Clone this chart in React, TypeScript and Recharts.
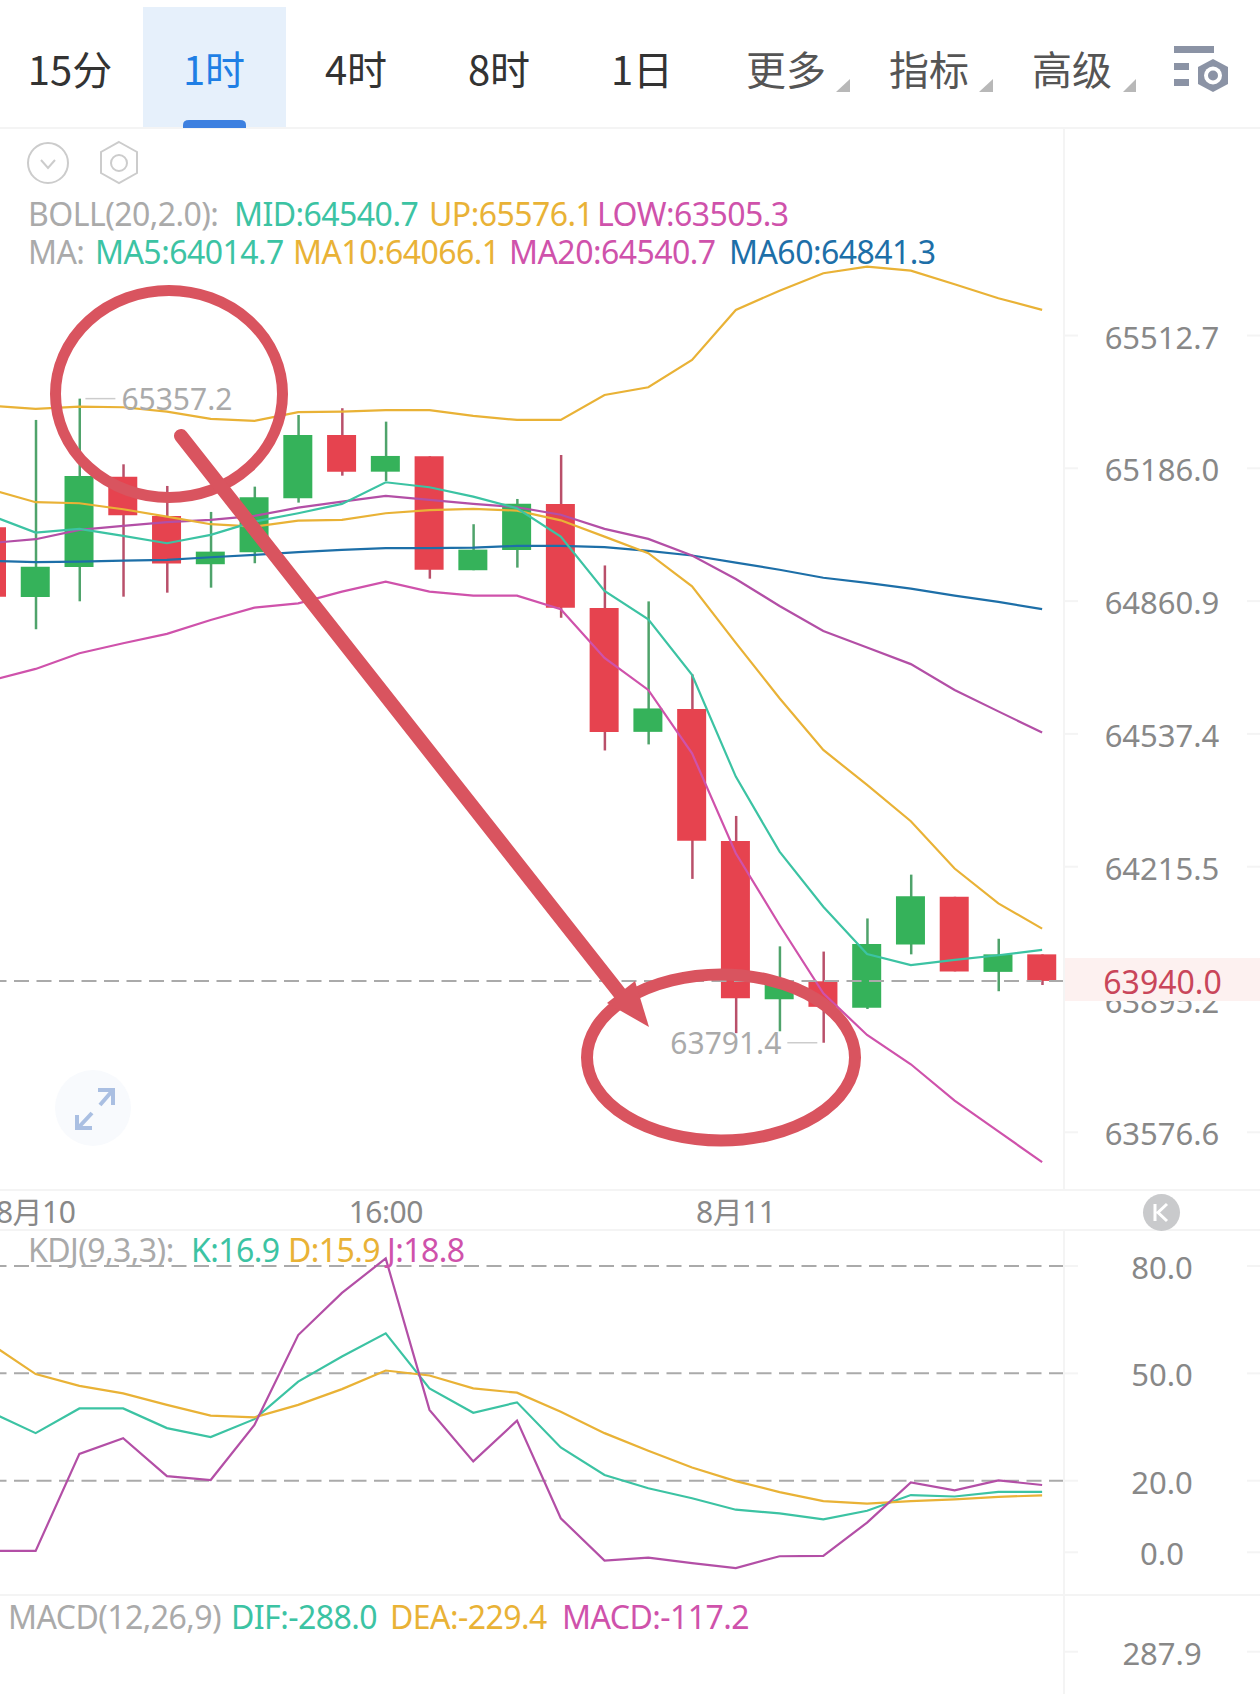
import {
  ComposedChart,
  Bar,
  Line,
  Cell,
  XAxis,
  YAxis,
  ReferenceLine,
  ReferenceDot,
} from "recharts";

const FONT = '"Noto Sans", "Noto Sans CJK SC", sans-serif';
const GREEN = "#35b25a";
const RED = "#e6434f";
const GREEN_WICK = "#4fa36b";
const RED_WICK = "#b9506a";
const TEAL = "#3cc3a3";
const YELLOW = "#e9b236";
const PINK = "#cf52ab";
const PURPLE = "#b34fa6";
const BLUE = "#1d6fa8";
const GRAY_TEXT = "#aaaaaa";
const TICK_TEXT = "#888888";
const BORDER = "#f4f4f4";
const MARKER = "#d9545f";

const times = [
  "8-10 07:00", "8月10", "8-10 09:00", "8-10 10:00", "8-10 11:00", "8-10 12:00", "8-10 13:00",
  "8-10 14:00", "8-10 15:00", "16:00", "8-10 17:00", "8-10 18:00", "8-10 19:00", "8-10 20:00",
  "8-10 21:00", "8-10 22:00", "8-10 23:00", "8月11", "8-11 01:00", "8-11 02:00", "8-11 03:00",
  "8-11 04:00", "8-11 05:00", "8-11 06:00", "8-11 07:00",
];
const dateTicks = ["8月10", "16:00", "8月11"];

const opens = [
  65041.6, 64871, 64944.4, 65165.4, 65069.2, 64951, 64980.4, 65112.6, 65267.9, 65177.7, 65215.5, 64936.3, 64986,
  65098.6, 64844.1, 64542.4, 64598.1, 64277.5, 63895.9, 63939.1, 63875.5, 64027.8, 64142.9, 63961.8, 64004,
];
const highs = [
  65060, 65304.8, 65357.2, 65195.8, 65142.7, 65079, 65141, 65317, 65333.6, 65300.6, 65215.5, 65048.9, 65110.8,
  65218.7, 64948, 64860.2, 64682.1, 64338.4, 64023.3, 64010.7, 64090.6, 64196.4, 64142.9, 64041.6, 64004,
];
const lows = [
  64871.7, 64792.2, 64860.4, 64871.7, 64881.5, 64893.7, 64953.4, 65101.8, 65167.9, 65154.9, 64915.7, 64936.3, 64942.7,
  64820.2, 64497.2, 64511.9, 64186.1, 63814.4, 63818.9, 63791.4, 63872.4, 64004, 63963, 63915.2, 63930.2,
];
const closes = [
  64871.7, 64945.1, 65167.2, 65071, 64952.5, 64981.8, 65115, 65267.9, 65177.7, 65216.3, 64937.8, 64986.7, 65099.3,
  64844.6, 64541.8, 64599.3, 64278.5, 63898.1, 63941.5, 63877.7, 64029.1, 64144.1, 63963, 64004, 63940,
];

const ma5 = [
  65069.2, 65028.3, 65037.4, 65020.3, 65002.4, 65022.7, 65055.3, 65075.8, 65098.6, 65151.7, 65139.5, 65116.5, 65088.1,
  65018.6, 64885.6, 64816.6, 64680.9, 64433.7, 64251.9, 64119, 64004.9, 63977.9, 63990.5, 64001.8, 64014.7,
];
const ma10 = [
  65132.9, 65102.8, 65100.3, 65085.6, 65067.5, 65048.9, 65043, 65057.7, 65059.4, 65075.8, 65083.2, 65086.4, 65082.2,
  65058.5, 65018.6, 64978, 64897.1, 64758.8, 64624.1, 64498.4, 64413.5, 64325.5, 64211.2, 64127, 64066.1,
];
const ma20 = [
  65003.1, 65012.2, 65035, 65044.8, 65053.8, 65059.4, 65069.2, 65089.5, 65104.2, 65118.2, 65108.4, 65098.6, 65090.5,
  65072.2, 65037.4, 65012.9, 64972.3, 64915, 64849, 64788.1, 64747.6, 64707.2, 64644.3, 64592.2, 64540.7,
];
const ma60 = [
  64959.1, 64955.9, 64957.4, 64959.8, 64961.5, 64968.1, 64973.8, 64980.4, 64986, 64990.2, 64990.2, 64991.6, 64995.8,
  64996, 64992.9, 64983.6, 64972.3, 64954.9, 64937.5, 64918, 64905.2, 64891.3, 64874.1, 64858.9, 64841.3,
];
const bollUp = [
  65339.3, 65331.9, 65337.5, 65336, 65325.2, 65307.3, 65302.4, 65323.8, 65325.2, 65328.7, 65328.7, 65314.7, 65304.8,
  65304.8, 65366.3, 65385.3, 65452.4, 65575.7, 65623.4, 65666.5, 65682.7, 65672.9, 65639.3, 65604.7, 65576.1,
];
const bollLow = [
  64667.7, 64695.5, 64733.7, 64758.1, 64780.8, 64814.9, 64844.8, 64855.5, 64883.9, 64908.4, 64883.9, 64874.1, 64874.1,
  64840.9, 64722.3, 64644.3, 64490.4, 64248, 64074.9, 63910.1, 63810, 63739.7, 63652.4, 63578.8, 63505.3,
];

const kLine = [
  39, 33.3, 40.2, 40.2, 34.7, 32.2, 37.2, 47.7, 54.7, 61.2, 45.8, 39, 41.9,
  29.3, 21.6, 17.9, 15.1, 11.9, 10.9, 9.2, 11.6, 16, 15.6, 16.9, 16.9,
];
const dLine = [
  58, 49.8, 46.5, 44.4, 41.2, 38.2, 37.7, 41.2, 45.6, 50.8, 49.4, 45.8, 44.6,
  39.3, 33.3, 28.4, 23.7, 19.9, 16.8, 14.3, 13.6, 14.3, 14.8, 15.5, 15.9,
];
const jLine = [
  0.4, 0.4, 27.5, 31.9, 21.3, 20.2, 35.6, 60.7, 72.5, 82.1, 39.8, 25.4, 36.8,
  9.5, -2.3, -1.5, -3, -4.4, -1.1, -1, 8.3, 19.5, 17.3, 20.1, 18.8,
];

const priceTicks = [65512.7, 65186.0, 64860.9, 64537.4, 64215.5, 63895.2, 63576.6];
const priceDomain = [63438.7, 66026.5];
const kdjTicks = [80, 50, 20, 0];
const kdjLevels = [80, 50, 20];
const kdjDomain = [-11.93, 90.06];
const macdTicks = [287.9];
const macdDomain = [192.4, 400];
const lastPrice = 63940;

const tabs = ["15分", "1时", "4时", "8时", "1日", "更多", "指标", "高级"];
const tabCenters = [70, 214, 356, 499, 642, 786, 929, 1072];

const priceData = times.map((time, i) => ({
  time,
  body: [Math.min(opens[i], closes[i]), Math.max(opens[i], closes[i])],
  wick: [lows[i], highs[i]],
  up: closes[i] >= opens[i],
  ma5: ma5[i],
  ma10: ma10[i],
  ma20: ma20[i],
  ma60: ma60[i],
  bollUp: bollUp[i],
  bollLow: bollLow[i],
}));

const kdjData = times.map((time, i) => ({ time, k: kLine[i], d: dLine[i], j: jLine[i] }));

function ValueTick({ x, y, payload }: any) {
  return (
    <g>
      <line x1={x} x2={x + 14} y1={y} y2={y} stroke={BORDER} strokeWidth={2} />
      <line x1={x + 183} x2={x + 196} y1={y} y2={y} stroke={BORDER} strokeWidth={2} />
      <text x={x + 98} y={y + 1} textAnchor="middle" dominantBaseline="central" fontSize={31} fontFamily={FONT} fill={TICK_TEXT}>
        {payload.value.toFixed(1)}
      </text>
    </g>
  );
}

function DateTick({ x, y, payload }: any) {
  return (
    <text x={x} y={y + 21} textAnchor="middle" dominantBaseline="central" fontSize={30} fontFamily={FONT} fill={TICK_TEXT} letterSpacing={-0.5}>
      {payload.value}
    </text>
  );
}

function ExtremeLabel({ cx, cy, text, side }: any) {
  const sign = side === "right" ? 1 : -1;
  return (
    <g>
      <line x1={cx + sign * 6} x2={cx + sign * 36} y1={cy} y2={cy} stroke="#cccccc" strokeWidth={1.5} />
      <text x={cx + sign * 42} y={cy} textAnchor={side === "right" ? "start" : "end"} dominantBaseline="central" fontSize={30} fontFamily={FONT} fill={GRAY_TEXT}>
        {text}
      </text>
    </g>
  );
}

function Legend({ top, items }: { top: number; items: [string, string, number][] }) {
  return (
    <>
      {items.map(([text, color, left]) => (
        <div
          key={text}
          style={{
            position: "absolute",
            top,
            left,
            color,
            fontFamily: FONT,
            fontSize: 32,
            lineHeight: "40px",
            letterSpacing: -0.55,
            whiteSpace: "pre",
          }}
        >
          {text}
        </div>
      ))}
    </>
  );
}

function Rule({ top }: { top: number }) {
  return <div style={{ position: "absolute", top, left: 0, width: 1260, height: 2, background: BORDER }} />;
}

function PriceChart() {
  return (
    <ComposedChart width={1290} height={1102} data={priceData} margin={{ top: 0, right: 0, bottom: 0, left: 0 }}>
      <XAxis xAxisId="wick" dataKey="time" hide />
      <XAxis
        xAxisId="body"
        dataKey="time"
        ticks={dateTicks}
        interval={0}
        height={40}
        tick={<DateTick />}
        tickLine={false}
        tickSize={0}
        tickMargin={0}
        axisLine={{ stroke: BORDER, strokeWidth: 2 }}
      />
      <YAxis
        orientation="right"
        width={196}
        scale="log"
        domain={priceDomain}
        allowDataOverflow
        ticks={priceTicks}
        interval={0}
        tick={<ValueTick />}
        tickLine={false}
        tickSize={0}
        tickMargin={0}
        axisLine={{ stroke: BORDER, strokeWidth: 2 }}
      />
      <Bar xAxisId="wick" dataKey="wick" barSize={2.5} isAnimationActive={false}>
        {priceData.map((d) => (
          <Cell key={d.time} fill={d.up ? GREEN_WICK : RED_WICK} />
        ))}
      </Bar>
      <Bar xAxisId="body" dataKey="body" barSize={29} isAnimationActive={false}>
        {priceData.map((d) => (
          <Cell key={d.time} fill={d.up ? GREEN : RED} />
        ))}
      </Bar>
      <Line xAxisId="body" dataKey="bollUp" type="linear" stroke={YELLOW} strokeWidth={2.2} dot={false} isAnimationActive={false} />
      <Line xAxisId="body" dataKey="bollLow" type="linear" stroke={PINK} strokeWidth={2.2} dot={false} isAnimationActive={false} />
      <Line xAxisId="body" dataKey="ma60" type="linear" stroke={BLUE} strokeWidth={2.2} dot={false} isAnimationActive={false} />
      <Line xAxisId="body" dataKey="ma20" type="linear" stroke={PURPLE} strokeWidth={2.2} dot={false} isAnimationActive={false} />
      <Line xAxisId="body" dataKey="ma10" type="linear" stroke={YELLOW} strokeWidth={2.2} dot={false} isAnimationActive={false} />
      <Line xAxisId="body" dataKey="ma5" type="linear" stroke={TEAL} strokeWidth={2.2} dot={false} isAnimationActive={false} />
      <ReferenceLine xAxisId="body" y={lastPrice} stroke={GRAY_TEXT} strokeWidth={2} strokeDasharray="15 7.5" />
      <ReferenceDot
        xAxisId="body"
        x="8-10 09:00"
        y={65357.2}
        r={0}
        shape={(p: any) => <ExtremeLabel cx={p.cx} cy={p.cy} side="right" text="65357.2" />}
      />
      <ReferenceDot
        xAxisId="body"
        x="8-11 02:00"
        y={63791.4}
        r={0}
        shape={(p: any) => <ExtremeLabel cx={p.cx} cy={p.cy} side="left" text="63791.4" />}
      />
    </ComposedChart>
  );
}

function KdjChart() {
  return (
    <ComposedChart width={1290} height={365} data={kdjData} margin={{ top: 0, right: 0, bottom: 0, left: 0 }}>
      <XAxis dataKey="time" scale="band" hide />
      <YAxis
        orientation="right"
        width={196}
        domain={kdjDomain}
        allowDataOverflow
        ticks={kdjTicks}
        interval={0}
        tick={<ValueTick />}
        tickLine={false}
        tickSize={0}
        tickMargin={0}
        axisLine={{ stroke: BORDER, strokeWidth: 2 }}
      />
      {kdjLevels.map((level) => (
        <ReferenceLine key={level} y={level} stroke={GRAY_TEXT} strokeWidth={2} strokeDasharray="15 7.5" />
      ))}
      <Line dataKey="k" type="linear" stroke={TEAL} strokeWidth={2.2} dot={false} isAnimationActive={false} />
      <Line dataKey="d" type="linear" stroke={YELLOW} strokeWidth={2.2} dot={false} isAnimationActive={false} />
      <Line dataKey="j" type="linear" stroke={PURPLE} strokeWidth={2.2} dot={false} isAnimationActive={false} />
    </ComposedChart>
  );
}

function MacdChart() {
  return (
    <ComposedChart width={1290} height={105} data={kdjData} margin={{ top: 0, right: 0, bottom: 0, left: 0 }}>
      <XAxis dataKey="time" scale="band" hide />
      <YAxis
        orientation="right"
        width={196}
        domain={macdDomain}
        allowDataOverflow
        ticks={macdTicks}
        interval={0}
        tick={<ValueTick />}
        tickLine={false}
        tickSize={0}
        tickMargin={0}
        axisLine={{ stroke: BORDER, strokeWidth: 2 }}
      />
    </ComposedChart>
  );
}

// header, icons and the hand-drawn marks on top of the charts
function Overlay() {
  return (
    <svg width={1260} height={1694} style={{ position: "absolute", top: 0, left: 0, pointerEvents: "none" }}>
      <path d="M183 128 L183 125 Q183 120 189 120 L240 120 Q246 120 246 125 L246 128 Z" fill="#3d80e0" />
      <path d="M836 92 L850 92 L850 79 Z" fill="#b8b8b8" />
      <path d="M979 92 L993 92 L993 79 Z" fill="#b8b8b8" />
      <path d="M1123 92 L1136 92 L1136 79 Z" fill="#b8b8b8" />
      <rect x={1174} y={46} width={40} height={7} fill="#8b93a5" />
      <rect x={1174} y={63} width={15} height={7} fill="#8b93a5" />
      <rect x={1174} y={79} width={15} height={7} fill="#8b93a5" />
      <path d="M1213 59 L1228 67 L1228 84 L1213 92 L1198 84 L1198 67 Z" fill="#8b93a5" />
      <circle cx={1213} cy={75.5} r={9} fill="#ffffff" />
      <circle cx={1213} cy={75.5} r={5} fill="#8b93a5" />
      <circle cx={48} cy={163} r={20} fill="none" stroke="#cccccc" strokeWidth={2} />
      <path d="M41 160 L48 168 L55 160" fill="none" stroke="#cccccc" strokeWidth={2} />
      <path d="M119 142 L137 152 L137 173 L119 183 L101 173 L101 152 Z" fill="none" stroke="#cccccc" strokeWidth={2} />
      <circle cx={119} cy={163} r={8} fill="none" stroke="#cccccc" strokeWidth={2} />
      <circle cx={93} cy={1108} r={38} fill="#f8fafd" />
      <path d="M100 1105 L113 1090 M98 1090 L113 1090 L113 1105" fill="none" stroke="#aabfe2" strokeWidth={4} />
      <path d="M92 1113 L78 1128 M77 1115 L77 1128 L92 1128" fill="none" stroke="#aabfe2" strokeWidth={4} />
      <circle cx={1161.5} cy={1212.5} r={18.5} fill="#c9cacc" />
      <path d="M1155 1204 L1155 1221 M1167 1204 L1158 1212.5 L1167 1221" fill="none" stroke="#ffffff" strokeWidth={3} />
      <ellipse cx={169} cy={394} rx={113.5} ry={103.5} fill="none" stroke={MARKER} strokeWidth={11} />
      <ellipse cx={721} cy={1057.5} rx={134} ry={83} fill="none" stroke={MARKER} strokeWidth={12} />
      <path d="M181 436 L625 1000" fill="none" stroke={MARKER} strokeWidth={14} strokeLinecap="round" />
      <path d="M649 1027 L607 1003 L635 981 Z" fill={MARKER} />
    </svg>
  );
}

export default function App() {
  return (
    <div style={{ position: "absolute", top: 0, left: 0, width: 1260, height: 1694, overflow: "hidden", background: "#ffffff" }}>
      <div style={{ position: "absolute", top: 7, left: 143, width: 143, height: 121, background: "#e6f0fb" }} />
      {tabs.map((tab, i) => (
        <div
          key={tab}
          style={{
            position: "absolute",
            top: 40,
            left: tabCenters[i] - 70,
            width: 140,
            textAlign: "center",
            fontFamily: '"Noto Sans CJK SC", sans-serif',
            fontSize: 40,
            lineHeight: "56px",
            color: i === 1 ? "#1f7fe5" : i > 4 ? "#555555" : "#333333",
          }}
        >
          {tab}
        </div>
      ))}
      <Rule top={127} />
      <Rule top={1189} />
      <Rule top={1229} />
      <Rule top={1594} />

      <div style={{ position: "absolute", top: 128, left: -30 }}>
        <PriceChart />
      </div>
      <div style={{ position: "absolute", top: 1230, left: -30 }}>
        <KdjChart />
      </div>
      <div style={{ position: "absolute", top: 1595, left: -30 }}>
        <MacdChart />
      </div>

      <div
        style={{
          position: "absolute",
          top: 958,
          left: 1065,
          width: 195,
          height: 43,
          lineHeight: "47px",
          textAlign: "center",
          background: "#fdf1f0",
          color: "#c9465a",
          fontFamily: FONT,
          fontSize: 32,
        }}
      >
        63940.0
      </div>

      <Legend
        top={194}
        items={[
          ["BOLL(20,2.0):", GRAY_TEXT, 28],
          ["MID:64540.7", TEAL, 234],
          ["UP:65576.1", YELLOW, 429],
          ["LOW:63505.3", PINK, 597],
        ]}
      />
      <Legend
        top={232}
        items={[
          ["MA:", GRAY_TEXT, 28],
          ["MA5:64014.7", TEAL, 95],
          ["MA10:64066.1", YELLOW, 293],
          ["MA20:64540.7", PINK, 509],
          ["MA60:64841.3", BLUE, 729],
        ]}
      />
      <Legend
        top={1230}
        items={[
          ["KDJ(9,3,3):", GRAY_TEXT, 28],
          ["K:16.9", TEAL, 191],
          ["D:15.9", YELLOW, 288],
          ["J:18.8", PINK, 387],
        ]}
      />
      <Legend
        top={1597}
        items={[
          ["MACD(12,26,9)", GRAY_TEXT, 8],
          ["DIF:-288.0", TEAL, 231],
          ["DEA:-229.4", YELLOW, 390],
          ["MACD:-117.2", PINK, 562],
        ]}
      />
      <Overlay />
    </div>
  );
}
